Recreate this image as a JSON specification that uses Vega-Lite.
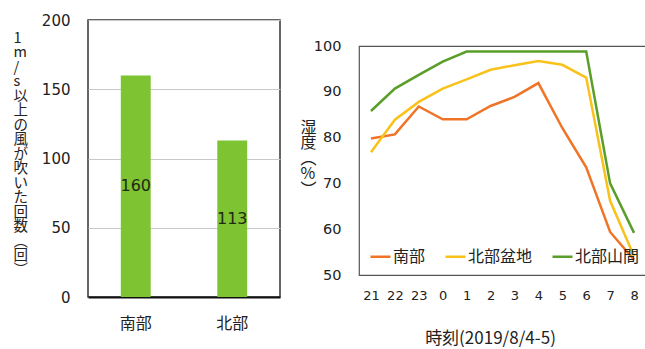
{
  "$schema": "https://vega.github.io/schema/vega-lite/v6.json",
  "background": "white",
  "padding": {"left": 12, "top": 12, "right": 0, "bottom": 0},
  "config": {
    "font": "DejaVu Sans, Noto Sans CJK JP",
    "axis": {"labelColor": "#222", "titleColor": "#222", "titleFontWeight": "normal"}
  },
  "datasets": {
    "bars": [
      {"area": "南部", "count": 160},
      {"area": "北部", "count": 113}
    ],
    "hum": [
      {"hour": "21", "site": "南部", "rh": 79.8},
      {"hour": "22", "site": "南部", "rh": 80.7},
      {"hour": "23", "site": "南部", "rh": 86.8},
      {"hour": "0", "site": "南部", "rh": 84.0},
      {"hour": "1", "site": "南部", "rh": 84.0},
      {"hour": "2", "site": "南部", "rh": 86.9},
      {"hour": "3", "site": "南部", "rh": 88.9},
      {"hour": "4", "site": "南部", "rh": 91.9},
      {"hour": "5", "site": "南部", "rh": 82.1},
      {"hour": "6", "site": "南部", "rh": 73.5},
      {"hour": "7", "site": "南部", "rh": 59.4},
      {"hour": "8", "site": "南部", "rh": 53.3},
      {"hour": "21", "site": "北部盆地", "rh": 76.8},
      {"hour": "22", "site": "北部盆地", "rh": 83.9},
      {"hour": "23", "site": "北部盆地", "rh": 87.8},
      {"hour": "0", "site": "北部盆地", "rh": 90.7},
      {"hour": "1", "site": "北部盆地", "rh": 92.7},
      {"hour": "2", "site": "北部盆地", "rh": 94.8},
      {"hour": "3", "site": "北部盆地", "rh": 95.8},
      {"hour": "4", "site": "北部盆地", "rh": 96.7},
      {"hour": "5", "site": "北部盆地", "rh": 95.9},
      {"hour": "6", "site": "北部盆地", "rh": 93.1},
      {"hour": "7", "site": "北部盆地", "rh": 66.2},
      {"hour": "8", "site": "北部盆地", "rh": 54.1},
      {"hour": "21", "site": "北部山間", "rh": 85.8},
      {"hour": "22", "site": "北部山間", "rh": 90.7},
      {"hour": "23", "site": "北部山間", "rh": 93.7},
      {"hour": "0", "site": "北部山間", "rh": 96.6},
      {"hour": "1", "site": "北部山間", "rh": 98.8},
      {"hour": "2", "site": "北部山間", "rh": 98.8},
      {"hour": "3", "site": "北部山間", "rh": 98.8},
      {"hour": "4", "site": "北部山間", "rh": 98.8},
      {"hour": "5", "site": "北部山間", "rh": 98.8},
      {"hour": "6", "site": "北部山間", "rh": 98.8},
      {"hour": "7", "site": "北部山間", "rh": 70.0},
      {"hour": "8", "site": "北部山間", "rh": 59.2}
    ]
  },
  "spacing": 18,
  "resolve": {"scale": {"color": "independent"}, "legend": {"color": "independent"}},
  "hconcat": [
    {
      "width": 192,
      "height": 277,
      "data": {"name": "bars"},
      "view": {"stroke": "#333", "strokeWidth": 1.5},
      "encoding": {
        "x": {
          "field": "area", "type": "nominal", "sort": ["南部", "北部"],
          "scale": {"paddingInner": 0.69, "paddingOuter": 0.34},
          "axis": {"title": null, "labelAngle": 0, "labelFont": "Noto Sans CJK JP", "labelFontSize": 16, "labelPadding": 18, "ticks": false, "domainColor": "#111", "domainWidth": 2}
        }
      },
      "layer": [
        {
          "mark": {"type": "bar", "color": "#7DC332"},
          "encoding": {
            "y": {
              "field": "count", "type": "quantitative",
              "scale": {"domain": [0, 200]},
              "axis": {
                "values": [0, 50, 100, 150, 200], "grid": true, "gridColor": "#c8c8c8",
                "domain": false, "ticks": false, "labelFontSize": 15, "labelPadding": 18,
                "title": ["1", "m", "/", "s", "以", "上", "の", "風", "が", "吹", "い", "た", "回", "数", "︵", "回", "︶"],
                "titleAngle": 0, "titleAlign": "left", "titleBaseline": "top",
                "titleX": -75, "titleY": 11, "titleLimit": 18,
                "titleFont": "Noto Sans CJK JP", "titleFontSize": 14.5, "titleLineHeight": 14.5
              }
            }
          }
        },
        {
          "mark": {"type": "text", "fontSize": 16, "color": "#1e2a14", "baseline": "middle"},
          "encoding": {
            "text": {"field": "count", "type": "quantitative"},
            "y": {"field": "count", "type": "quantitative", "scale": {"domain": [0, 400]}, "axis": null}
          }
        }
      ],
      "resolve": {"scale": {"y": "independent"}}
    },
    {
      "spacing": 0,
      "resolve": {"scale": {"color": "independent"}, "legend": {"color": "independent"}},
      "vconcat": [
        {
          "width": 287,
          "height": 17,
          "data": {"name": "bars"},
          "view": {"stroke": null},
          "mark": {"type": "rule", "opacity": 0},
          "encoding": {}
        },
        {
          "width": 287,
          "height": 229,
          "data": {"name": "hum"},
          "view": {"stroke": "#555", "strokeWidth": 1.2},
          "mark": {"type": "line", "strokeWidth": 2.5},
          "encoding": {
            "x": {
              "field": "hour", "type": "ordinal",
              "sort": ["21", "22", "23", "0", "1", "2", "3", "4", "5", "6", "7", "8"],
              "scale": {"type": "point", "padding": 0.5},
              "axis": {
                "title": "時刻(2019/8/4-5)", "titleFont": "Noto Sans CJK JP", "titleFontSize": 17,
                "titleX": 131, "titleY": 63, "titleAlign": "center", "titleBaseline": "middle",
                "labelAngle": 0, "labelFontSize": 13, "labelPadding": 14, "ticks": false, "domain": false
              }
            },
            "y": {
              "field": "rh", "type": "quantitative",
              "scale": {"domain": [50, 100]},
              "axis": {
                "values": [50, 60, 70, 80, 90, 100], "grid": false, "domain": false, "ticks": false,
                "labelFontSize": 14.5, "labelPadding": 18,
                "title": ["湿", "度", "︵", "%", "︶"],
                "titleAngle": 0, "titleAlign": "left", "titleBaseline": "top",
                "titleX": -59, "titleY": 73, "titleLimit": 18,
                "titleFont": "Noto Sans CJK JP", "titleFontSize": 16, "titleLineHeight": 15.5
              }
            },
            "color": {
              "field": "site", "type": "nominal",
              "scale": {"domain": ["南部", "北部盆地", "北部山間"], "range": ["#F07426", "#F8C21A", "#5A9E2A"]},
              "legend": {
                "title": null, "orient": "bottom-left", "direction": "horizontal",
                "symbolType": "stroke", "symbolStrokeWidth": 2.5, "symbolSize": 400,
                "labelFont": "Noto Sans CJK JP", "labelFontSize": 16, "labelColor": "#222",
                "columnPadding": 14, "offset": 10, "padding": 0, "labelOffset": 1
              }
            }
          }
        }
      ]
    }
  ]
}
